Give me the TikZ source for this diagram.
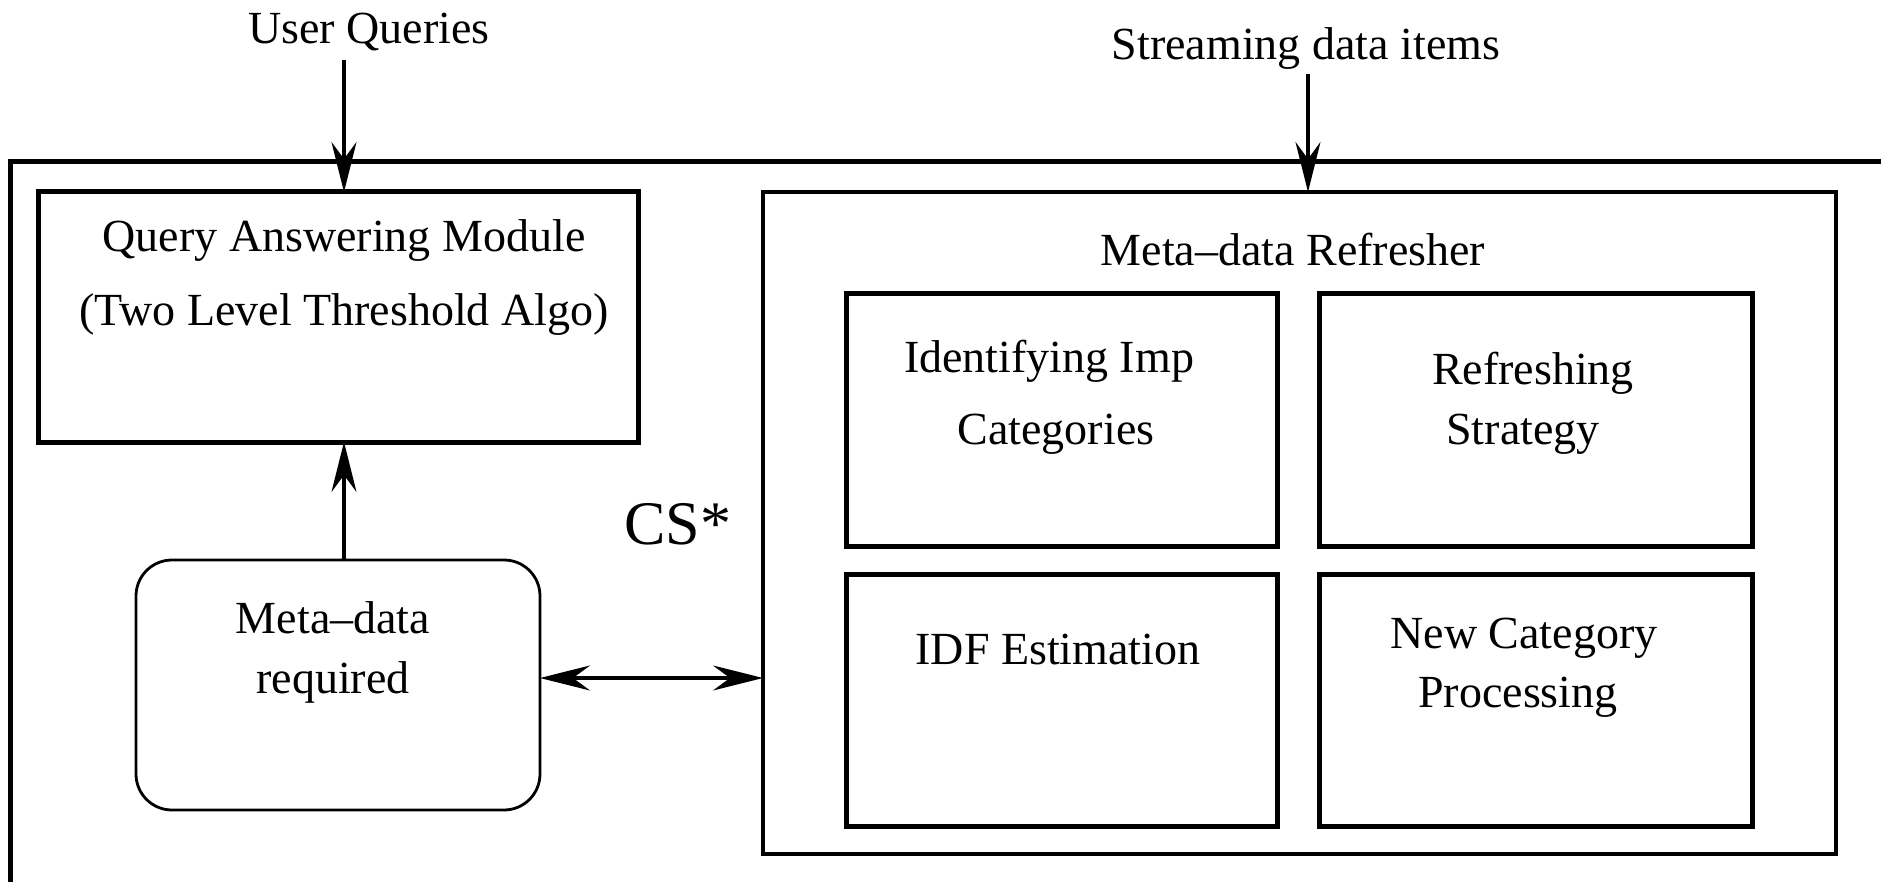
\documentclass[tikz,border=0pt]{standalone}
\usepackage{fontspec}
\setmainfont{Liberation Serif}
\usetikzlibrary{arrows.meta}
\begin{document}
\begin{tikzpicture}[x=1pt,y=-1pt,
  lbl/.style={anchor=base, inner sep=0pt, font=\fontsize{46}{55}\selectfont},
  bigbox/.style={draw, line width=5pt, inner sep=0pt, outer sep=0pt},
  midbox/.style={draw, line width=3.6pt, inner sep=0pt, outer sep=0pt},
  roundbox/.style={draw, line width=2.8pt, rounded corners=36pt, inner sep=0pt, outer sep=0pt},
  frame/.style={line width=5pt},
  conn/.style={line width=3.2pt, -{Stealth[length=50pt, width=25pt, inset=17pt]}},
  dconn/.style={line width=3.2pt, {Stealth[length=50pt, width=25pt, inset=17pt]}-{Stealth[length=50pt, width=25pt, inset=17pt]}}
]
\useasboundingbox (0,0) rectangle (1881,882);
\fill[white] (0,0) rectangle (1881,882);

% outer frame (open at right and bottom)
\coordinate (FB) at (10,900);
\coordinate (FL) at (10,162);
\coordinate (FR) at (1900,162);
\draw[frame] (FB) -- (FL) -- (FR);

% boxes
\node[bigbox, minimum width=600pt, minimum height=250pt] (QAM) at (338,317) {};
\node[roundbox, minimum width=404pt, minimum height=250pt] (MDR) at (338,685) {};
\node[midbox, minimum width=1073pt, minimum height=662pt] (MR) at (1299.5,523) {};
\node[bigbox, minimum width=431pt, minimum height=252pt] (IIC) at (1061.5,420) {};
\node[bigbox, minimum width=433pt, minimum height=252pt] (RS) at (1535.5,420) {};
\node[bigbox, minimum width=431pt, minimum height=252pt] (IDF) at (1061.5,700) {};
\node[bigbox, minimum width=433pt, minimum height=252pt] (NCP) at (1535.5,700) {};

% texts
\node[lbl] (tUQ) at (369,44) {User Queries};
\node[lbl] (tSD) at (1306,60) {Streaming data items};
\node[lbl] (tQ1) at (344,252) {Query Answering Module};
\node[lbl] (tQ2) at (344,326) {(Two Level Threshold Algo)};
\node[lbl] (tMR) at (1293,266) {Meta–data Refresher};
\node[lbl] (tI1) at (1049,372) {Identifying Imp};
\node[lbl] (tI2) at (1056,444) {Categories};
\node[lbl] (tR1) at (1533,384) {Refreshing};
\node[lbl] (tR2) at (1523,444) {Strategy};
\node[lbl] (tIDF) at (1058,664) {IDF Estimation};
\node[lbl] (tN1) at (1524,648) {New Category};
\node[lbl] (tN2) at (1518,707) {Processing};
\node[lbl] (tM1) at (333,633) {Meta–data};
\node[lbl] (tM2) at (333,693) {required};
\node[anchor=base, inner sep=0pt, font=\fontsize{62}{70}\selectfont] (tCS) at (678,544) {CS*};

% connectors
\coordinate (UQs) at (344,60);
\coordinate (SDs) at (1308,74);
\coordinate (DA) at (0,678);
\draw[conn] (UQs) -- (UQs |- QAM.north);
\draw[conn] (SDs) -- (SDs |- MR.north);
\draw[conn] (MDR.north -| UQs) -- (QAM.south -| UQs);
\draw[dconn] (MDR.east |- DA) -- (MR.west |- DA);
\end{tikzpicture}
\end{document}
